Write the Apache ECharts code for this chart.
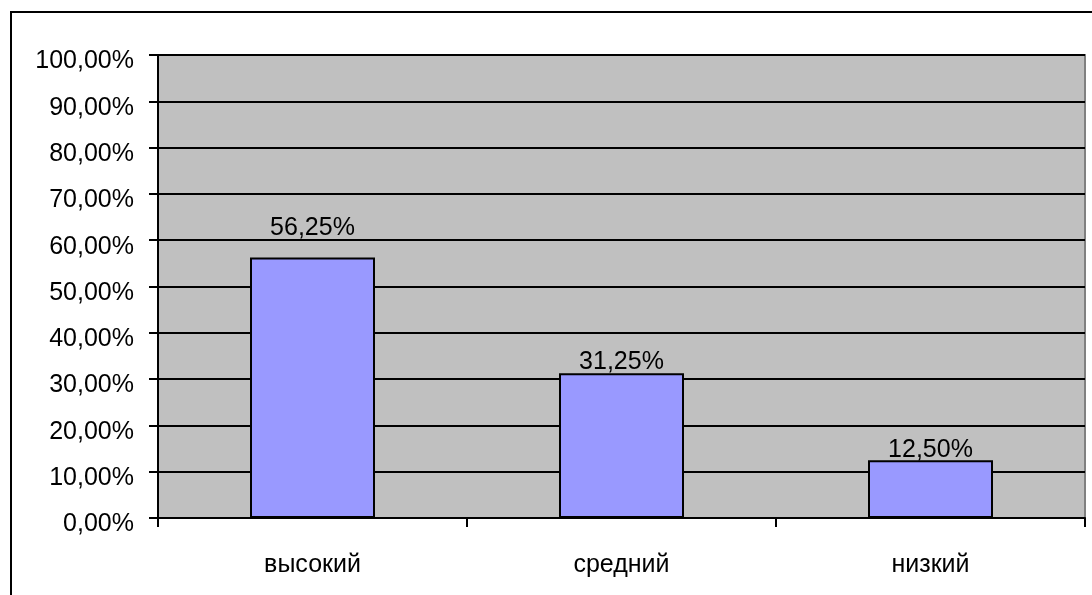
<!DOCTYPE html>
<html>
<head>
<meta charset="utf-8">
<script src="https://cdn.jsdelivr.net/npm/echarts@6/dist/echarts.min.js"></script>
<style>
  html, body { margin: 0; padding: 0; background: #ffffff; overflow: hidden; }
  #chart { width: 1092px; height: 595px; }
</style>
</head>
<body>
<div id="chart"></div>
<script>
// Уровни и доли (в процентах)
const categories = ['высокий', 'средний', 'низкий'];
const shares = [56.25, 31.25, 12.5];
// Отступ подписи над столбцом
const labelGaps = [19, 1, 0];

const FONT = '"Liberation Sans", Arial, sans-serif';
const fmt = v => v.toFixed(2).replace('.', ',') + '%';

const chart = echarts.init(document.getElementById('chart'), null, { renderer: 'canvas' });

chart.setOption({
  animation: false,
  backgroundColor: '#ffffff',
  textStyle: { fontFamily: FONT },
  // рамка области диаграммы (верхняя и левая стороны)
  graphic: [{
    type: 'polyline',
    shape: { points: [[11, 700], [11, 12], [1200, 12]] },
    style: { fill: 'none', stroke: '#000000', lineWidth: 2 },
    silent: true,
    z: 0
  }],
  grid: {
    left: 158, top: 55, right: 7, bottom: 77,
    show: true,
    backgroundColor: '#c0c0c0',
    borderColor: '#808080',
    borderWidth: 2
  },
  xAxis: {
    type: 'category',
    data: categories,
    axisLine: { lineStyle: { color: '#000000', width: 2 } },
    axisTick: { show: true, inside: false, length: 9, lineStyle: { color: '#000000', width: 2 } },
    axisLabel: { color: '#000000', fontSize: 25, fontFamily: FONT, margin: 35 },
    splitLine: { show: false }
  },
  yAxis: {
    type: 'value',
    min: 0,
    max: 100,
    interval: 10,
    axisLine: { show: true, lineStyle: { color: '#000000', width: 2 } },
    axisTick: { show: true, length: 9, lineStyle: { color: '#000000', width: 2 } },
    axisLabel: {
      color: '#000000', fontSize: 25, fontFamily: FONT, margin: 24,
      formatter: v => '{t|' + fmt(v) + '}',
      rich: {
        t: { color: '#000000', fontSize: 25, fontFamily: FONT, padding: [13, 0, 0, 0] }
      }
    },
    splitLine: { show: true, lineStyle: { color: '#000000', width: 2 } }
  },
  series: [{
    type: 'bar',
    barWidth: 125,
    data: shares.map((v, i) => ({
      value: v,
      label: { distance: labelGaps[i] }
    })),
    itemStyle: { color: '#9999ff', borderColor: '#000000', borderWidth: 2 },
    label: {
      show: true,
      position: 'top',
      offset: [0, 2],
      color: '#000000',
      fontSize: 25,
      fontFamily: FONT,
      formatter: p => fmt(p.value)
    }
  }]
});
</script>
</body>
</html>
